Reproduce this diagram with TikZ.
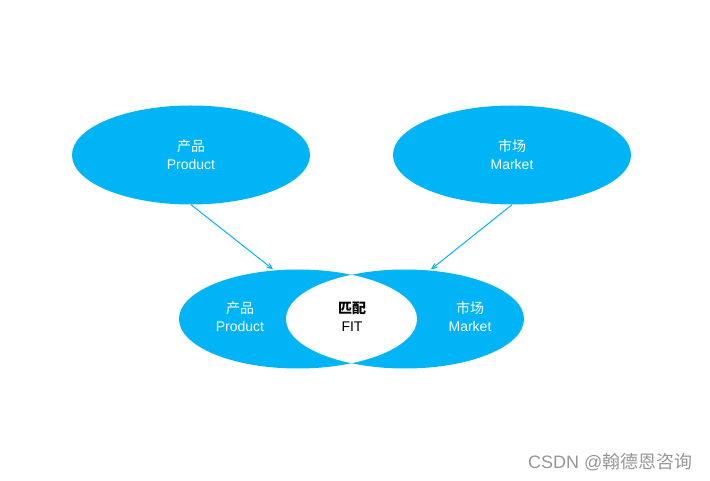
\documentclass[tikz,border=0pt]{standalone}
\usepackage{fontspec}
\setmainfont{Liberation Sans}
\newfontfamily\cjk{Noto Sans CJK SC}
\usepackage{xcolor}
\usepackage{tikz}
\usetikzlibrary{positioning, shapes.geometric, arrows}
\definecolor{sky}{RGB}{0, 180, 245}
\definecolor{mark}{RGB}{150, 150, 150}

\begin{document}
\begin{tikzpicture}[x=1pt, y=-1pt,
        blob/.style={ellipse, fill=#1, minimum width=238pt, minimum height=99pt, inner sep=0pt},
        word/.style={text=#1, align=center, font=\fontsize{14}{18}\selectfont},
        link/.style={-angle 45, sky, line width=1pt, shorten >=1.5pt}
    ]
        \useasboundingbox (0,0) rectangle (710,481);

        \node (prod) [blob=sky, word=white] at (191,155) {{\cjk 产品}\\Product};
        \node (mkt) [blob=sky, word=white] at (512,155) {{\cjk 市场}\\Market};

        \node (prodB) [blob=sky] at (298,319) {};
        \node (mktB) [blob=sky] at (405,319) {};
        \begin{scope}
            \clip (298,319) ellipse [x radius=119, y radius=49.5];
            \fill[white] (405,319) ellipse [x radius=119, y radius=49.5];
        \end{scope}

        \node (prodT) [word=white] at (240,317) {{\cjk 产品}\\Product};
        \node (fit) [word=black] at (352,317) {{\cjk\bfseries 匹配}\\FIT};
        \node (mktT) [word=white] at (470,317) {{\cjk 市场}\\Market};

        \draw[link] (prod.south) -- (prodB.116);
        \draw[link] (mkt.south) -- (mktB.63);

        \node (wm) [word=mark, font=\fontsize{18}{20}\selectfont, anchor=east] at (696,462) {CSDN @{\cjk 翰德恩咨询}};
    \end{tikzpicture}
\end{document}
